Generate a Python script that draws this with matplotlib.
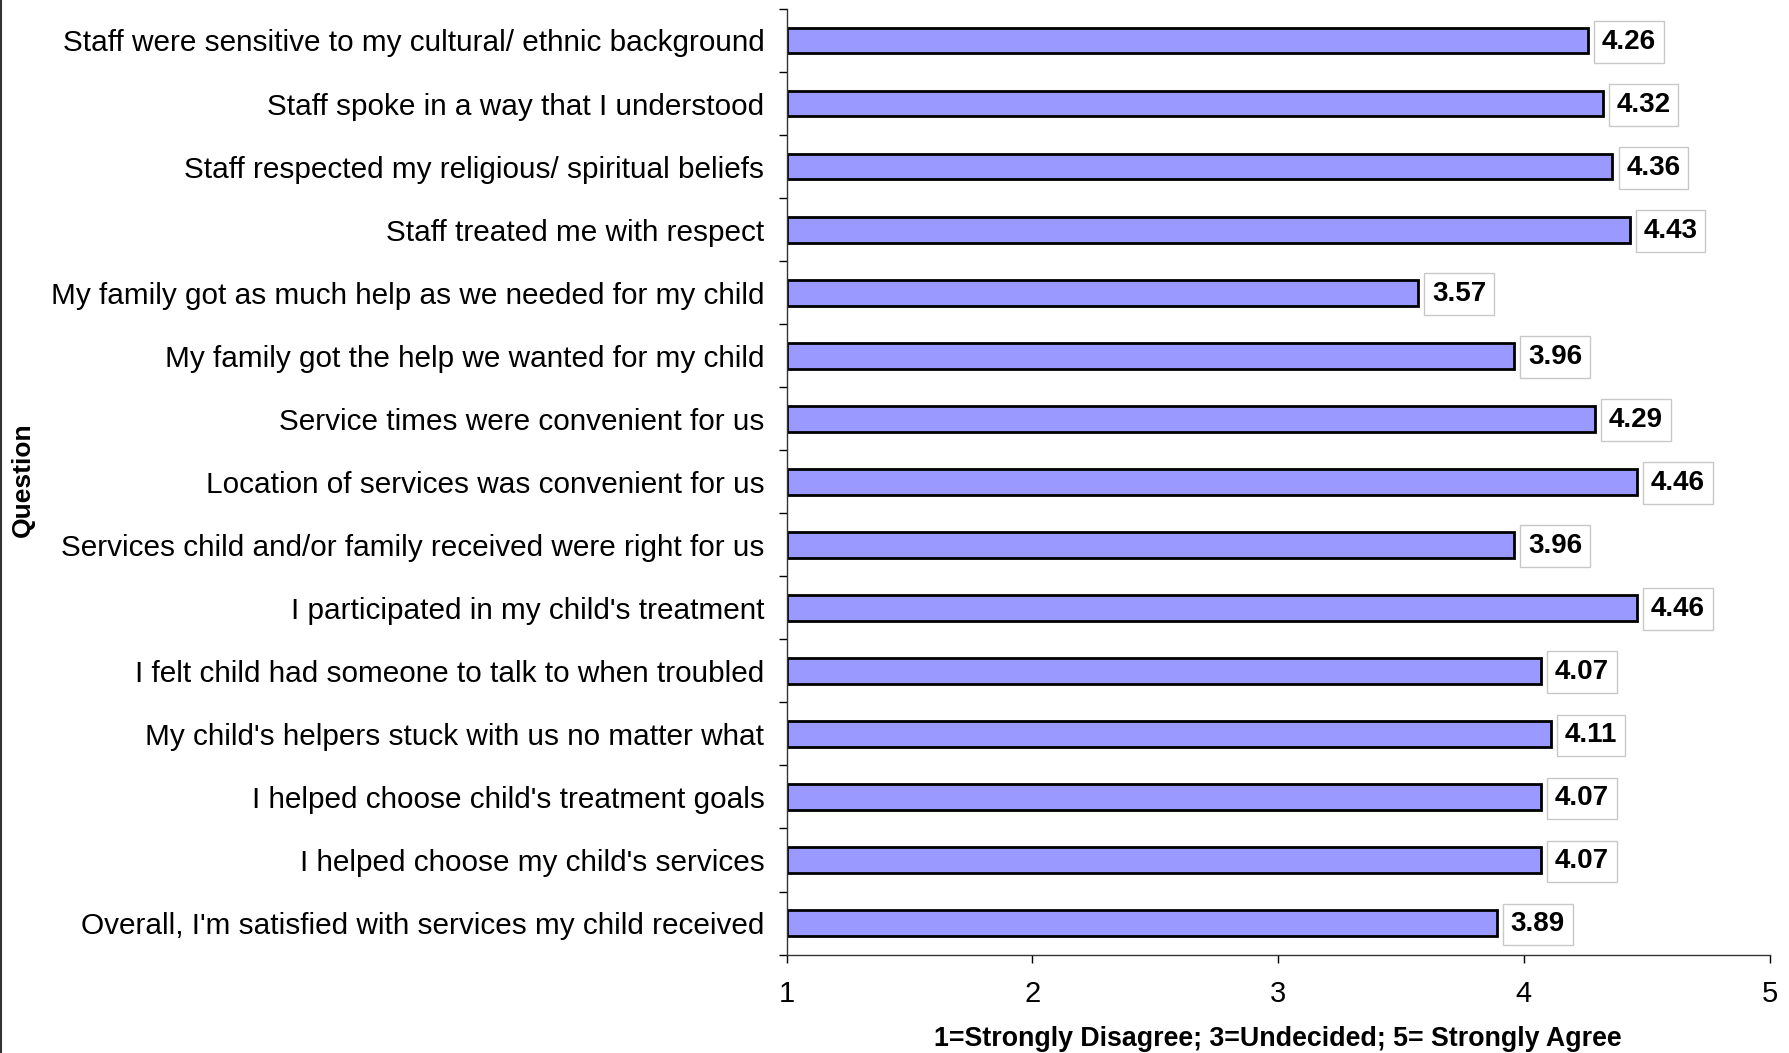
import matplotlib.pyplot as plt
import numpy as np

plt.rcParams['font.family'] = ['Liberation Sans', 'DejaVu Sans']

# questions, top to bottom
questions = [
    "Staff were sensitive to my cultural/ ethnic background",
    "Staff spoke in a way that I understood",
    "Staff respected my religious/ spiritual beliefs",
    "Staff treated me with respect",
    "My family got as much help as we needed for my child",
    "My family got the help we wanted for my child",
    "Service times were convenient for us",
    "Location of services was convenient for us",
    "Services child and/or family received were right for us",
    "I participated in my child's treatment",
    "I felt child had someone to talk to when troubled",
    "My child's helpers stuck with us no matter what",
    "I helped choose child's treatment goals",
    "I helped choose my child's services",
    "Overall, I'm satisfied with services my child received",
]
scores = [4.26, 4.32, 4.36, 4.43, 3.57, 3.96, 4.29, 4.46, 3.96, 4.46,
          4.07, 4.11, 4.07, 4.07, 3.89]
xticks = [1, 2, 3, 4, 5]

fig = plt.figure(figsize=(17.89, 10.53), dpi=100)
ax = fig.add_axes([0.4397, 0.0935, 0.5495, 0.898])

n = len(questions)
y = np.arange(n)[::-1]  # first question on top
base = 1
ax.barh(y, np.array(scores) - base, left=base, height=0.41,
        color='#9999FF', edgecolor='black', linewidth=2)

for yi, v in zip(y, scores):
    ax.annotate(f"{v:.2f}", xy=(v, yi), xytext=(10, -1), textcoords='offset points',
                va='center', ha='left', fontsize=20, fontweight='bold',
                bbox=dict(boxstyle='square,pad=0.28', fc='white', ec='#c8c8c8', lw=1))

ax.set_xlim(1, 5)
ax.set_ylim(-0.5, n - 0.5)
ax.set_xticks(xticks)
ax.set_xticklabels([str(t) for t in xticks], fontsize=21)
ax.tick_params(axis='x', length=6, width=1, pad=12)

# category ticks sit between rows, like Excel
ax.set_yticks(np.arange(-0.5, n, 1.0))
ax.set_yticklabels([])
ax.set_yticks(y, minor=True)
ax.set_yticklabels(questions, minor=True, fontsize=21.4)
ax.tick_params(axis='y', which='major', length=6, width=1)
ax.tick_params(axis='y', which='minor', length=0, pad=16)

for s in ['top', 'right']:
    ax.spines[s].set_visible(False)
for s in ['left', 'bottom']:
    ax.spines[s].set_color('#333333')
    ax.spines[s].set_linewidth(1)

ax.set_xlabel("1=Strongly Disagree; 3=Undecided; 5= Strongly Agree",
              fontsize=19.3, fontweight='bold')
ax.xaxis.set_label_coords(0.5, -0.076)
fig.text(0.013, 0.544, "Question", rotation=90, fontsize=19, fontweight='bold',
         ha='center', va='center')

# left border of the chart area
fig.add_artist(plt.Line2D([0.0008, 0.0008], [0, 1], color='#333333', lw=1.5))

fig.savefig('out.png', dpi=100)
